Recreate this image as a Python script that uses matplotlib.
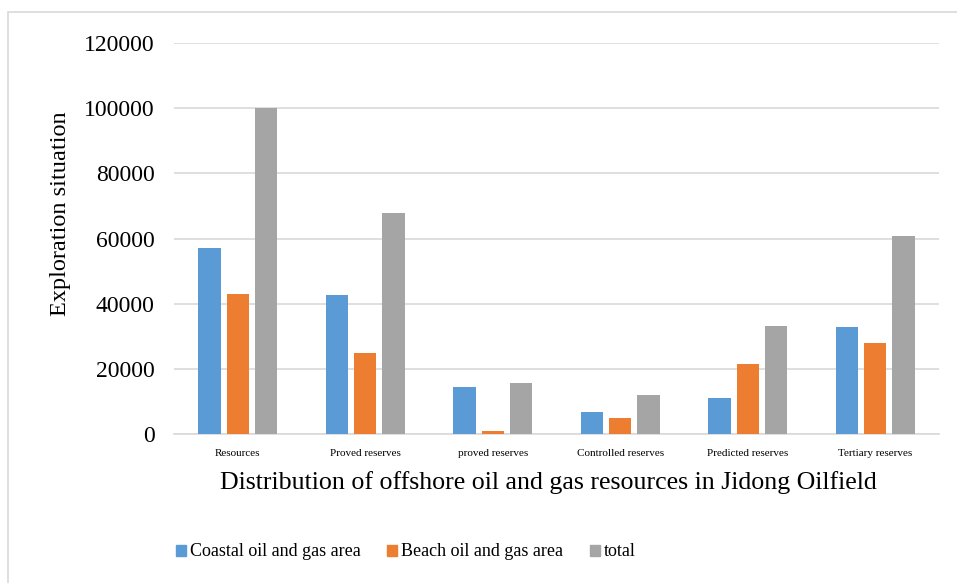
import matplotlib.pyplot as plt
import numpy as np
from matplotlib.patches import Rectangle, Patch

categories = ["Resources", "Proved reserves", "proved reserves",
              "Controlled reserves", "Predicted reserves", "Tertiary reserves"]
coastal = [57000, 42600, 14500, 6800, 11100, 32800]
beach = [43000, 25000, 900, 4900, 21500, 27900]
total = [100000, 67800, 15600, 12000, 33000, 60700]
series_names = ["Coastal oil and gas area", "Beach oil and gas area", "total"]
colors = ["#5B9BD5", "#ED7D31", "#A5A5A5"]
yticks = [0, 20000, 40000, 60000, 80000, 100000, 120000]

plt.rcParams["font.family"] = ["Liberation Serif", "DejaVu Serif"]

fig = plt.figure(figsize=(9.57, 5.83), dpi=100)
ax = fig.add_axes([0.1818, 0.2556, 0.7993, 0.6706])

# outer chart frame
fig.patches.append(Rectangle((8 / 957, -0.05), 1.0, 1 - 12 / 583 + 0.05,
                             transform=fig.transFigure, fill=False,
                             edgecolor="#d9d9d9", linewidth=1.2))

x = np.arange(len(categories))
width = 0.175
step = 0.222
for k, (vals, name, c) in enumerate(zip([coastal, beach, total], series_names, colors)):
    ax.bar(x + (k - 1) * step, vals, width, color=c, label=name, zorder=3)

ax.set_xlim(-0.5, len(categories) - 0.5)
ax.set_ylim(0, 120000)
ax.set_yticks(yticks)
ax.set_yticklabels([str(v) for v in yticks], fontsize=17)
ax.set_xticks(x)
ax.set_xticklabels(categories, fontsize=8)
ax.tick_params(axis="both", length=0)
ax.tick_params(axis="y", pad=14)
ax.tick_params(axis="x", pad=11)
ax.grid(axis="y", color="#d9d9d9", linewidth=1.2, zorder=0)
for s in ["top", "right", "left"]:
    ax.spines[s].set_visible(False)
ax.spines["bottom"].set_color("#d9d9d9")
ax.spines["bottom"].set_linewidth(1.2)

ax.set_ylabel("Exploration situation", fontsize=17.5)
ax.yaxis.set_label_coords(-0.135, 0.563)
ax.set_xlabel("Distribution of offshore oil and gas resources in Jidong Oilfield",
              fontsize=18.6)
ax.xaxis.set_label_coords(0.49, -0.095)

handles = [Patch(color=c) for c in colors]
fig.legend(handles, series_names, loc="center", bbox_to_anchor=(0.424, 1 - 552 / 583),
           ncol=3, frameon=False, fontsize=13, handlelength=0.55, handleheight=0.55,
           handletextpad=0.2, columnspacing=1.5)

fig.savefig("out.png", dpi=100)
